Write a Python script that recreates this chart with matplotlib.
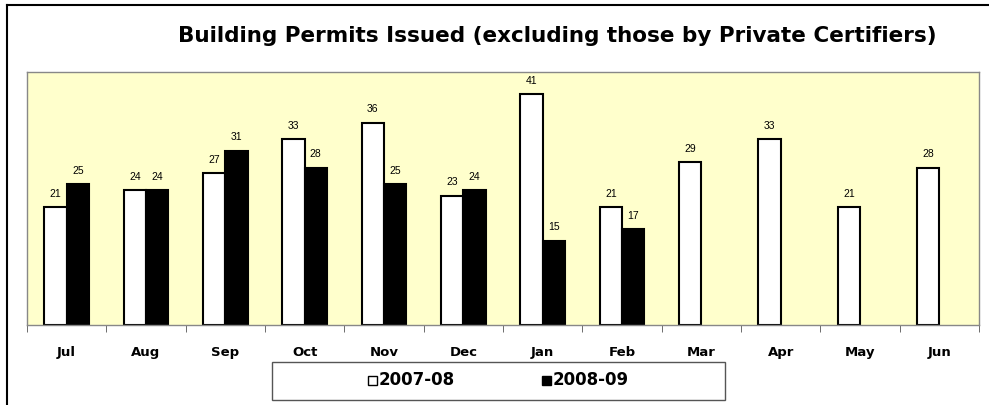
import numpy as np
import matplotlib.pyplot as plt
from matplotlib.patches import Rectangle

months = ['Jul', 'Aug', 'Sep', 'Oct', 'Nov', 'Dec', 'Jan', 'Feb', 'Mar', 'Apr', 'May', 'Jun']
permits_0708 = [21, 24, 27, 33, 36, 23, 41, 21, 29, 33, 21, 28]
permits_0809 = [25, 24, 31, 28, 25, 24, 15, 17]

plt.rcParams['font.family'] = ['Liberation Sans', 'DejaVu Sans']

fig = plt.figure(figsize=(9.89, 4.05), dpi=100)
W, H = 989, 405
ax = fig.add_axes([27 / W, 1 - 325 / H, 952 / W, 253 / H])
ax.set_facecolor('#FFFFCC')

x = np.arange(len(months))
w = 0.28
b1 = ax.bar(x[:len(permits_0708)] - w / 2, permits_0708, w, color='white',
            edgecolor='black', linewidth=1.5, label='2007-08')
b2 = ax.bar(x[:len(permits_0809)] + w / 2, permits_0809, w, color='black',
            edgecolor='black', linewidth=1.5, label='2008-09')

for bars in (b1, b2):
    for r in bars:
        ax.annotate(str(int(r.get_height())), (r.get_x() + r.get_width() / 2, r.get_height()),
                    xytext=(0, 6), textcoords='offset points', ha='center', va='bottom',
                    fontsize=7.5)

ax.set_xlim(-0.5, len(months) - 0.5)
ax.set_ylim(0, 45)
ax.set_yticks([])
ax.set_xticks(x)
ax.set_xticklabels(months, fontsize=9.5, fontweight='bold', family='DejaVu Sans')
ax.set_xticks(np.arange(len(months) + 1) - 0.5, minor=True)
ax.tick_params(axis='x', which='major', length=0, pad=15)
ax.tick_params(axis='x', which='minor', length=5, direction='out', color='#555555')
for s in ax.spines.values():
    s.set_color('#888888')
    s.set_linewidth(1)

fig.text(557 / W, 1 - 36 / H, 'Building Permits Issued (excluding those by Private Certifiers)',
         ha='center', va='center', fontsize=15.5, fontweight='bold', family='DejaVu Sans')

# figure frame lines
fig.add_artist(plt.Line2D([7 / W, 7 / W], [0, 1 - 5 / H], color='black', lw=1.5))
fig.add_artist(plt.Line2D([7 / W, 1], [1 - 5 / H, 1 - 5 / H], color='black', lw=1.5))

# legend box
fig.add_artist(Rectangle((272 / W, 1 - 400 / H), (725 - 272) / W, 38 / H,
                         transform=fig.transFigure, facecolor='white',
                         edgecolor='#555555', lw=1))
for lx, label, fc in ((368, '2007-08', 'white'), (542, '2008-09', 'black')):
    fig.add_artist(Rectangle((lx / W, 1 - 385 / H), 9 / W, 9 / H,
                             transform=fig.transFigure, facecolor=fc,
                             edgecolor='black', lw=1))
    fig.text((lx + 11) / W, 1 - 380 / H, label, ha='left', va='center',
             fontsize=12, fontweight='bold', family='DejaVu Sans')

fig.savefig('out.png', dpi=100)
